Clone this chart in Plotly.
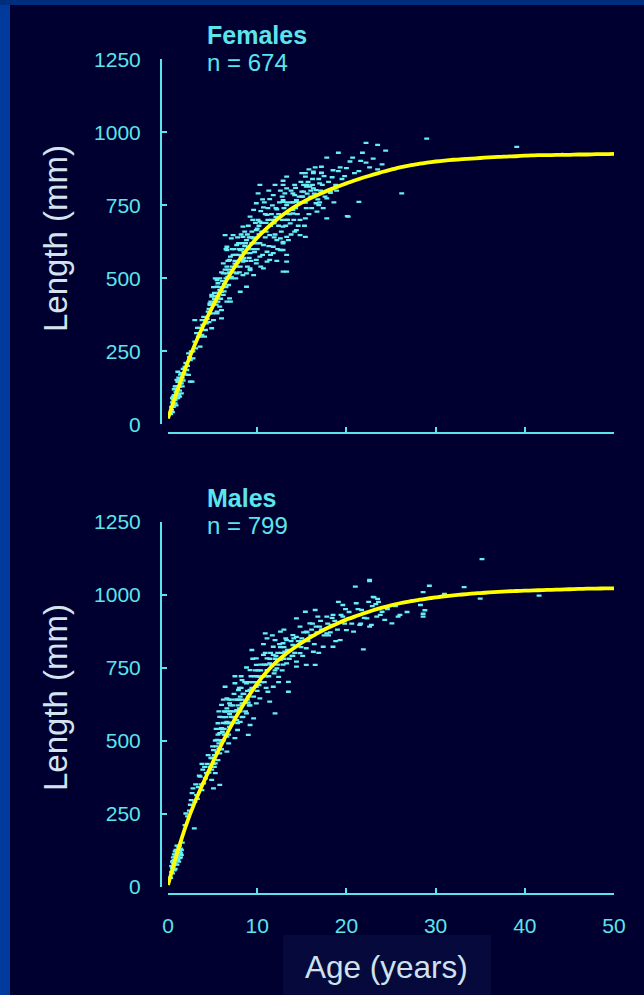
import plotly.graph_objects as go

# ---------------- data ----------------
curve_age = list(range(0, 51))
f_curve = [20, 112, 196, 272, 341, 403, 462, 516, 563, 604, 639, 669, 696, 720, 741, 759, 775, 789,
           802, 814, 825, 836, 846, 855, 864, 872, 880, 886, 891, 896, 900, 903, 906, 908, 910, 912,
           914, 916, 917, 918, 920, 921, 922, 922, 923, 923, 924, 924, 925, 925, 926]
m_curve = [5, 112, 208, 288, 358, 424, 487, 546, 600, 650, 695, 733, 765, 791, 814, 835, 854, 871,
           887, 901, 914, 925, 936, 946, 955, 963, 970, 976, 981, 986, 990, 994, 997, 1000, 1003, 1005,
           1007, 1009, 1011, 1012, 1013, 1014, 1015, 1016, 1017, 1018, 1019, 1020, 1020, 1021, 1021]

f_age = [0.3, 0.4, 0.5, 0.6, 0.6, 0.7, 0.8, 0.8, 0.9, 1.0, 1.0, 1.0, 1.1, 1.1, 1.2, 1.2, 1.3, 1.3, 1.4, 1.5,
         1.5, 1.6, 0.5, 0.7, 0.9, 1.2, 1.4, 0.6, 0.8, 1.1, 1.3, 0.9, 1.7, 1.8,
         1.9, 2.1, 2.3, 2.5, 2.7, 2.5, 2.3, 2.8, 3.0, 3.0, 3.2, 3.6, 3.8, 3.8, 4.0, 4.2, 2.0, 2.6, 3.4, 3.5,
         4.3, 4.5, 4.7, 4.7, 4.7, 4.9, 4.9, 4.9, 5.1, 5.3, 5.3, 5.5, 5.5, 5.5, 5.5, 5.6, 5.6, 5.8, 6.0, 6.0,
         6.0, 6.2, 6.2, 6.2, 6.4, 6.6, 6.6, 6.6, 6.6, 6.6, 6.8, 6.9, 6.9, 7.0, 7.0, 7.1, 7.1, 7.1, 5.0, 5.8,
         6.3, 6.5, 5.2, 6.8,
         7.3, 7.3, 7.7, 7.7, 7.7, 8.1, 8.1, 8.1, 8.4, 8.4, 8.4, 8.4, 8.4, 8.8, 8.8, 8.8, 8.8, 9.0, 9.2, 9.2,
         9.2, 9.2, 9.6, 9.6, 9.6, 9.9, 9.9, 9.9, 9.9, 7.5, 8.0, 8.6, 9.4, 7.9, 8.2, 9.0, 9.5,
         10.1, 10.3, 10.3, 10.3, 10.3, 10.7, 10.7, 10.7, 11.1, 11.1, 11.1, 11.4, 11.4, 11.4, 11.8, 11.8, 11.8,
         11.8, 12.2, 12.2, 12.6, 12.6, 12.9, 12.9, 12.9, 12.9, 12.9, 12.9, 12.9, 12.9, 12.9, 10.5, 11.0, 11.6,
         12.0, 12.4, 10.8,
         13.1, 13.3, 13.3, 13.3, 13.3, 13.3, 13.3, 13.3, 13.3, 13.3, 13.5, 13.7, 14.0, 14.0, 14.0, 14.2, 14.2,
         14.2, 14.4, 14.4, 14.4, 14.8, 14.8, 15.0, 15.0, 15.2, 15.2, 15.4, 15.4, 15.4, 15.4, 15.4, 15.5, 15.5,
         15.8, 15.9, 16.3, 16.3, 16.3, 16.6, 16.6, 16.7, 16.9, 17.0, 17.2, 17.2, 17.2, 17.4, 17.8, 17.8, 17.8,
         18.2, 18.2, 18.4, 19.1, 19.1, 20.0, 20.1, 20.2, 20.7, 21.4, 21.4, 21.6, 22.2, 22.2, 23.5, 23.5, 24.4,
         26.2, 29.0, 39.1, 18.8, 19.5, 16.0,
         4.4, 4.6, 4.8, 5.0, 5.2, 5.4, 5.7, 5.9, 6.1, 6.3, 6.5, 6.7, 6.9, 5.1, 5.6, 6.0, 6.4, 6.8, 4.6, 5.9,
         7.2, 7.4, 7.6, 7.8, 8.0, 8.2, 8.3, 8.5, 8.7, 8.9, 9.1, 9.3, 9.5, 9.7, 9.8, 7.4, 7.8, 8.6, 9.3, 9.8,
         7.6, 8.9,
         10.0, 10.2, 10.4, 10.6, 10.9, 11.2, 11.3, 11.5, 11.7, 11.9, 12.1, 12.3, 12.5, 12.7, 12.8, 10.1, 10.6,
         11.3, 12.0, 12.6, 11.5, 12.2, 10.4,
         13.2, 13.4, 13.6, 13.8, 14.1, 14.3, 14.5, 14.7, 14.9, 15.1, 15.3, 15.6, 15.7, 16.1, 16.2, 16.4, 16.8,
         17.1, 17.5, 17.6, 13.9, 14.6, 15.8, 16.5, 17.0,
         18.0, 18.5, 18.9, 19.3, 19.8, 20.4, 20.9, 21.8, 22.6, 23.0, 24.0, 18.6,
         0.4, 0.5, 0.7, 0.8, 1.0, 1.1, 1.2, 1.3, 1.5, 1.6, 1.7, 2.0, 2.2, 2.4, 2.8, 3.1, 3.3, 3.6, 3.9, 4.1,
         5.3, 5.8, 6.1, 6.7, 7.2, 7.9, 8.3, 8.7, 9.1, 9.4, 9.7, 10.2, 10.5, 10.9, 11.2, 11.6, 12.1, 12.4,
         12.8, 13.4, 13.8, 14.3, 14.7, 15.1, 15.6, 16.2, 16.9, 17.3, 8.5, 9.0, 10.0, 11.0, 12.0, 13.0, 14.0,
         15.0, 16.0, 6.5, 7.5, 11.9]
f_len = [35, 49, 42, 60, 95, 70, 72, 83, 110, 106, 152, 90, 117, 180, 130, 100, 129, 95, 140, 106,
         140, 160, 75, 120, 130, 160, 170, 85, 100, 145, 115, 65, 150, 175,
         197, 186, 169, 146, 146, 220, 243, 226, 283, 357, 312, 266, 306, 357, 368, 323, 210, 250, 300, 330,
         346, 386, 380, 409, 414, 329, 437, 443, 357, 420, 500, 386, 380, 471, 494, 437, 483, 403, 363, 391,
         454, 443, 517, 551, 648, 420, 517, 540, 597, 608, 477, 431, 563, 420, 574, 500, 505, 637, 410, 460,
         480, 500, 450, 530,
         580, 648, 517, 540, 614, 454, 540, 597, 511, 557, 563, 642, 677, 471, 517, 586, 631, 608, 528, 534,
         586, 711, 511, 637, 734, 551, 563, 665, 757, 560, 600, 610, 620, 580, 650, 680, 700,
         791, 574, 620, 694, 820, 534, 614, 743, 557, 591, 717, 563, 648, 771, 586, 608, 688,
         785, 631, 736, 597, 637, 523, 597, 620, 625, 677, 762, 768, 820, 834, 660, 690, 720,
         700, 680, 760,
         791, 523, 557, 580, 642, 700, 722, 751, 808, 848, 631, 688, 722, 734, 791, 660, 785,
         820, 665, 762, 768, 648, 700, 797, 860, 797, 820, 642, 705, 759, 848, 860, 740, 814,
         873, 814, 808, 860, 865, 757, 802, 728, 751, 825, 860, 862, 882, 740, 705, 774, 913,
         793, 797, 846, 867, 930, 877, 713, 711, 913, 762, 867, 902, 896, 964, 873, 957, 937,
         791, 978, 950, 820, 840, 780,
         360, 395, 420, 380, 430, 410, 450, 470, 490, 455, 470, 505, 520, 470, 420, 520, 530, 560, 350, 430,
         540, 520, 580, 555, 520, 575, 620, 590, 560, 650, 570, 640, 600, 590, 690, 600, 640, 660, 560, 620,
         500, 540,
         600, 650, 730, 580, 640, 700, 610, 680, 750, 640, 710, 600, 760, 660, 700, 700, 770,
         800, 820, 800, 580, 560, 540,
         680, 760, 720, 650, 700, 810, 720, 780, 830, 760, 680, 790, 830, 740, 840, 790, 770,
         800, 850, 780, 760, 680, 720, 880, 760,
         830, 870, 800, 880, 850, 900, 860, 930, 880, 910, 890, 760,
         60, 90, 100, 130, 120, 90, 145, 155, 175, 130, 190, 170, 200, 230, 250, 260, 330, 300, 340, 300,
         440, 500, 470, 560, 600, 620, 600, 620, 640, 660, 640, 680, 690, 720, 740, 700, 740, 720,
         780, 700, 800, 740, 760, 780, 820, 820, 840, 820, 570, 600, 670, 660, 650, 740, 760,
         780, 800, 600, 550, 690]

m_age = [0.3, 0.4, 0.5, 0.6, 0.6, 0.7, 0.8, 0.8, 0.9, 1.0, 1.0, 1.1, 1.2, 1.2, 1.3, 1.4, 1.5, 0.5, 0.7, 0.9,
         1.1, 1.3, 1.4, 0.6, 1.0, 1.2, 0.8, 1.5,
         1.9, 2.2, 2.6, 2.8, 2.95, 3.2, 3.6, 4.0, 4.3, 2.4, 3.0, 3.4, 3.8, 4.1,
         4.7, 4.9, 5.1, 5.1, 5.3, 5.3, 5.5, 5.6, 5.6, 5.8, 5.8, 5.8, 5.8, 6.0, 6.0, 6.4, 6.4, 6.6, 6.6, 6.6,
         6.6, 6.8, 6.9, 6.9, 5.0, 5.4, 6.2, 6.5, 6.1, 6.7, 5.9, 6.3,
         7.1, 7.5, 7.5, 7.7, 7.8, 7.9, 8.1, 8.1, 8.3, 8.3, 8.4, 8.8, 8.8, 9.0, 9.0, 9.2, 9.2, 9.2, 9.4, 9.6,
         9.9, 9.9, 9.9, 9.9, 7.3, 7.6, 8.0, 8.5, 8.7, 9.5, 7.2, 8.2, 9.1, 9.7,
         10.3, 10.3, 10.7, 10.9, 11.1, 11.1, 11.1, 11.2, 11.4, 11.4, 11.8, 11.8, 11.8, 12.0, 12.0, 12.2, 12.4,
         12.6, 12.6, 12.9, 13.1, 13.3, 13.3, 13.5, 13.5, 14.0, 14.0, 10.5, 11.0, 12.3, 13.0, 10.8, 12.8,
         14.4, 14.4, 14.4, 14.4, 14.8, 14.8, 15.4, 15.5, 15.5, 15.5, 15.9, 16.3, 16.5, 16.5, 16.8, 17.0, 17.4,
         17.8, 17.8, 18.3, 18.5, 18.5, 19.1, 19.3, 19.6, 19.6, 15.0, 16.0, 17.2, 18.0,
         20.0, 20.8, 21.0, 21.1, 21.5, 21.7, 21.9, 22.3, 22.5, 22.6, 22.6, 22.6, 22.8, 23.0, 23.1, 23.3, 23.4,
         23.5, 23.6, 24.0, 24.3, 25.1, 25.8, 26.0, 28.3, 28.6, 28.6, 28.6, 28.8, 29.3, 31.0, 33.2, 35.0, 35.2,
         41.6,
         0.4, 0.5, 0.6, 0.7, 0.8, 0.9, 1.0, 1.1, 1.2, 1.3, 1.4, 1.6, 0.7, 1.0,
         2.0, 2.5, 2.7, 3.1, 3.3, 3.5, 3.7, 3.9, 4.2, 4.4, 4.6, 4.8, 4.9, 4.5, 3.8,
         5.0, 5.2, 5.3, 5.5, 5.6, 5.7, 5.9, 6.0, 6.1, 6.2, 6.3, 6.4, 6.5, 6.6, 6.7, 6.8, 6.9, 5.4, 5.7, 6.2,
         6.8, 5.1,
         7.0, 7.1, 7.2, 7.3, 7.4, 7.6, 7.7, 7.9, 8.0, 8.1, 8.3, 8.4, 8.6, 8.7, 8.9, 9.0, 9.2, 9.3, 9.4, 9.6,
         9.8, 7.5, 8.2, 8.8, 9.5, 7.8,
         10.0, 10.1, 10.2, 10.4, 10.6, 10.9, 11.0, 11.3, 11.5, 11.6, 11.9, 12.1, 12.3, 12.5, 12.7, 12.9, 13.2,
         13.4, 13.6, 13.8, 10.7, 11.7, 12.4, 13.0, 13.9,
         14.2, 14.6, 14.9, 15.2, 15.7, 16.1, 16.4, 16.7, 17.1, 17.5, 17.9, 18.2, 18.7, 19.0, 19.4, 19.8, 15.1,
         16.9, 18.8,
         20.3, 20.6, 21.3, 22.0, 22.9, 23.8, 24.6, 25.5, 26.8, 27.5,
         5.2, 5.7, 6.3, 6.9, 7.4, 7.8, 8.3, 8.9, 9.4, 9.9, 10.4, 10.8, 11.4, 12.0, 12.6, 13.3, 14.1, 14.8,
         15.6, 16.2, 17.3, 18.4, 6.0, 7.0, 8.0, 9.0, 10.0, 11.0, 12.0, 13.0, 14.0, 16.6, 19.9, 21.6]
m_len = [30, 50, 63, 68, 79, 90, 79, 102, 110, 91, 119, 125, 85, 135, 97, 114, 108, 45, 75, 95,
         105, 120, 130, 88, 140, 110, 60, 125,
         210, 240, 296, 336, 199, 313, 376, 353, 388, 260, 290, 340, 330, 410,
         410, 365, 336, 467, 388, 422, 502, 433, 559, 348, 456, 525, 581, 542, 622, 599, 684, 462, 513, 564,
         644, 490, 547, 627, 440, 480, 500, 560, 580, 600, 500, 540,
         581, 508, 696, 604, 536, 673, 564, 650, 627, 707, 581, 593, 696, 519, 650, 553, 673, 741, 810, 576,
         627, 684, 759, 781, 620, 640, 610, 660, 630, 700, 560, 680, 620, 720,
         644, 718, 793, 867, 741, 781, 850, 667, 633, 764, 684, 793, 821, 593, 844, 747, 718,
         776, 873, 833, 804, 764, 844, 667, 701, 827, 861, 700, 720, 800, 780, 760, 740,
         753, 770, 855, 918, 799, 890, 941, 759, 816, 873, 901, 804, 759, 947, 924, 890, 821,
         867, 924, 896, 821, 930, 975, 844, 924, 964, 850, 860, 880, 860,
         878, 873, 1027, 970, 896, 947, 812, 918, 975, 890, 1050, 1046, 896, 992, 990, 967, 924,
         985, 975, 941, 913, 901, 924, 930, 964, 924, 934, 1008, 946, 1030, 1002, 1025, 986, 1121,
         996,
         70, 85, 100, 110, 120, 125, 100, 90, 120, 140, 100, 150, 55, 75,
         250, 280, 320, 350, 300, 380, 350, 400, 370, 420, 390, 440, 400, 450, 420,
         480, 450, 500, 460, 520, 490, 540, 500, 530, 560, 600, 520, 580, 610, 560, 640, 590, 540, 600, 640,
         520, 420,
         600, 640, 600, 580, 660, 600, 570, 620, 680, 600, 580, 660, 700, 600, 640, 700, 620, 720, 680, 650,
         740, 720, 720, 750, 780, 560,
         670, 740, 690, 760, 720, 800, 680, 720, 800, 760, 730, 790, 760, 830, 800, 760, 850,
         810, 780, 840, 830, 860, 700, 880, 790,
         800, 840, 820, 870, 840, 880, 830, 870, 910, 860, 900, 870, 910, 880, 930, 900, 790,
         800, 840,
         940, 900, 950, 920, 960, 930, 950, 960, 940, 980,
         410, 470, 520, 560, 580, 640, 640, 670, 700, 700, 740, 700, 780, 780, 820, 800, 850, 840,
         870, 900, 880, 920, 470, 620, 640, 630, 720, 760, 740, 820, 790, 890, 950, 900]

x_ticks = [0, 10, 20, 30, 40, 50]
y_ticks = [0, 250, 500, 750, 1000, 1250]

# ---------------- layout helpers ----------------
FIG_W, FIG_H = 644, 995
L, R, T, B = 161, 614, 58, 894
W, H = R - L, B - T


def px(x):
    return (x - L) / W


def py(y):
    return (B - y) / H


CYAN = "#5ce4ec"
DOT = "#66eef6"
BG = "#000030"
FONT = "Liberation Sans, Arial, sans-serif"

fig = go.Figure()

for ages, lens, xa, ya in [(f_age, f_len, "x", "y"), (m_age, m_len, "x2", "y2")]:
    fig.add_trace(go.Scatter(
        x=ages, y=lens, xaxis=xa, yaxis=ya, mode="markers",
        marker=dict(symbol="line-ew", size=3.5, color=DOT, line=dict(color=DOT, width=2.3)),
        showlegend=False, hoverinfo="skip"))

for curve, xa, ya in [(f_curve, "x", "y"), (m_curve, "x2", "y2")]:
    fig.add_trace(go.Scatter(
        x=curve_age, y=curve, xaxis=xa, yaxis=ya, mode="lines", line_shape="spline",
        line=dict(color="#ffff00", width=3.8, smoothing=0.6), showlegend=False, hoverinfo="skip"))

xcommon = dict(range=[0, 50], tickvals=x_ticks, ticks="inside", ticklen=5, tickwidth=1.5,
               tickcolor=CYAN, showline=True, linecolor=CYAN, linewidth=2, showgrid=False,
               zeroline=False, anchor="free", domain=[px(168), 1],
               tickfont=dict(family=FONT, size=21, color=CYAN), ticklabelstandoff=13)
ycommon = dict(range=[0, 1250], tickvals=y_ticks, ticks="inside", ticklen=5, tickwidth=1.5,
               tickcolor=CYAN, showline=True, linecolor=CYAN, linewidth=2, showgrid=False,
               zeroline=False, anchor="free", position=0,
               tickfont=dict(family=FONT, size=21, color=CYAN), ticklabelstandoff=15)

fig.update_layout(
    width=FIG_W, height=FIG_H,
    margin=dict(l=L, r=FIG_W - R, t=T, b=FIG_H - B, pad=0),
    paper_bgcolor=BG, plot_bgcolor=BG,
    xaxis=dict(**xcommon, position=py(432.7), showticklabels=False),
    yaxis=dict(**ycommon, domain=[py(424.3), py(59.3)]),
    xaxis2=dict(**xcommon, position=0, showticklabels=True),
    yaxis2=dict(**ycommon, domain=[py(886.5), py(521.5)]),
    shapes=[
        dict(type="rect", xref="paper", yref="paper", x0=px(0), x1=px(10), y0=py(FIG_H), y1=py(0),
             fillcolor="#003a9c", line=dict(width=0), layer="below"),
        dict(type="rect", xref="paper", yref="paper", x0=px(0), x1=px(FIG_W), y0=py(5), y1=py(0),
             fillcolor="#002e7e", line=dict(width=0), layer="below"),
        dict(type="rect", xref="paper", yref="paper", x0=px(283), x1=px(491), y0=py(FIG_H), y1=py(935),
             fillcolor="#06093c", line=dict(width=0), layer="below"),
    ],
    annotations=[
        dict(text="<b>Females</b>", x=px(205), y=py(35), xref="paper", yref="paper", xanchor="left",
             yanchor="middle", showarrow=False, font=dict(family=FONT, size=25, color=CYAN)),
        dict(text="n = 674", x=px(205), y=py(62), xref="paper", yref="paper", xanchor="left",
             yanchor="middle", showarrow=False, font=dict(family=FONT, size=24, color=CYAN)),
        dict(text="<b>Males</b>", x=px(205), y=py(498), xref="paper", yref="paper", xanchor="left",
             yanchor="middle", showarrow=False, font=dict(family=FONT, size=25, color=CYAN)),
        dict(text="n = 799", x=px(205), y=py(525), xref="paper", yref="paper", xanchor="left",
             yanchor="middle", showarrow=False, font=dict(family=FONT, size=24, color=CYAN)),
        dict(text="Length (mm)", x=px(55), y=py(239), xref="paper", yref="paper", textangle=-90,
             xanchor="center", yanchor="middle", showarrow=False,
             font=dict(family=FONT, size=33, color="#d4e4ee")),
        dict(text="Length (mm)", x=px(55), y=py(698), xref="paper", yref="paper", textangle=-90,
             xanchor="center", yanchor="middle", showarrow=False,
             font=dict(family=FONT, size=33, color="#d4e4ee")),
        dict(text="Age (years)", x=px(386), y=py(967), xref="paper", yref="paper",
             xanchor="center", yanchor="middle", showarrow=False,
             font=dict(family=FONT, size=31.5, color="#cfe2ee")),
    ],
)

fig.write_html("out.html", config={"displayModeBar": False},
               post_script="document.body.style.margin='0';document.body.style.background='#000030';")
